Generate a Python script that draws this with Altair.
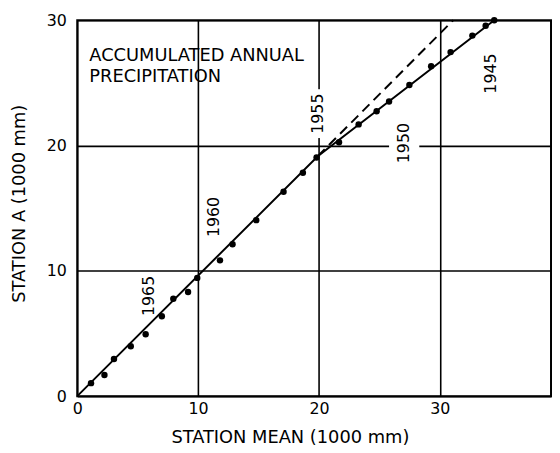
import altair as alt
import pandas as pd

# Double-mass curve: accumulated annual precipitation (1000 mm)
years = [1969, 1968, 1967, 1966, 1965, 1964, 1963, 1962, 1961, 1960,
         1959, 1958, 1957, 1956, 1955, 1954, 1953, 1952, 1951, 1950,
         1949, 1948, 1947, 1946, 1945]
station_mean = [1.14, 2.25, 3.04, 4.43, 5.66, 7.00, 7.95, 9.17, 9.93, 11.81,
                12.85, 14.81, 17.07, 18.67, 19.80, 21.66, 23.28, 24.77, 25.80, 27.48,
                29.28, 30.89, 32.69, 33.79, 34.50]
station_a = [1.04, 1.69, 2.97, 3.98, 4.94, 6.38, 7.77, 8.31, 9.44, 10.84,
             12.13, 14.05, 16.31, 17.83, 19.05, 20.26, 21.69, 22.74, 23.52, 24.84,
             26.34, 27.46, 28.78, 29.56, 30.00]

# fitted broken line and extrapolated trend (dashed)
fit_x = [0.0, 19.9, 34.5]
fit_y = [0.0, 19.15, 30.0]
trend_x = [19.9, 31.1]
trend_y = [19.15, 30.0]

# year annotations
label_text = ["1965", "1960", "1955", "1950", "1945"]
label_x = [5.95, 11.3, 19.9, 27.05, 34.2]
label_y = [8.0, 14.3, 22.55, 20.2, 25.75]

# white patches where the grid is interrupted by a year label
mask_x1 = [19.35, 25.8]
mask_x2 = [20.45, 28.3]
mask_y1 = [20.6, 18.6]
mask_y2 = [24.5, 21.8]

# panel caption
caption_lines = ["ACCUMULATED ANNUAL", "PRECIPITATION"]
caption_x = [1.0, 1.0]
caption_y = [26.76, 25.1]

x_ticks = [0, 10, 20, 30]
y_ticks = [0, 10, 20, 30]

FONT = "DejaVu Sans"
W, H = 479, 380

pts = pd.DataFrame({"year": years, "x": station_mean, "y": station_a})
fit = pd.DataFrame({"x": fit_x, "y": fit_y, "o": list(range(len(fit_x)))})
trend = pd.DataFrame({"x": trend_x, "y": trend_y, "o": list(range(len(trend_x)))})
labels = pd.DataFrame({"t": label_text, "x": label_x, "y": label_y})
masks = pd.DataFrame({"x1": mask_x1, "x2": mask_x2, "y1": mask_y1, "y2": mask_y2})
caption = pd.DataFrame({"t": caption_lines, "x": caption_x, "y": caption_y})

xscale = alt.Scale(domain=[0, W / 12.22], nice=False, zero=False)
yscale = alt.Scale(domain=[0, 30], nice=False, zero=False)

xaxis = alt.Axis(values=x_ticks, grid=True, gridColor="black", gridWidth=1.6, gridOpacity=1,
                 domain=False, ticks=False, labelFlush=False, labelFont=FONT, labelFontSize=16,
                 labelColor="black", labelPadding=5, labelAngle=0,
                 title="STATION MEAN (1000 mm)", titleFont=FONT, titleFontSize=18,
                 titleFontWeight="normal", titleColor="black", titleX=215, titleY=47,
                 titleAlign="center", titleBaseline="alphabetic")
yaxis = alt.Axis(values=y_ticks, grid=True, gridColor="black", gridWidth=1.6, gridOpacity=1,
                 domain=False, ticks=False, labelFlush=False, labelFont=FONT, labelFontSize=16,
                 labelColor="black", labelPadding=11,
                 title="STATION A (1000 mm)", titleFont=FONT, titleFontSize=18,
                 titleFontWeight="normal", titleColor="black", titleX=-53, titleY=185,
                 titleAngle=270, titleAlign="center", titleBaseline="alphabetic")

base_x = alt.X("x:Q", scale=xscale, axis=xaxis)
base_y = alt.Y("y:Q", scale=yscale, axis=yaxis)

mask_layer = alt.Chart(masks).mark_rect(color="white").encode(
    x=alt.X("x1:Q", scale=xscale, axis=xaxis), x2="x2:Q",
    y=alt.Y("y1:Q", scale=yscale, axis=yaxis), y2="y2:Q")

fit_layer = alt.Chart(fit).mark_line(color="black", strokeWidth=2).encode(
    x=base_x, y=base_y, order="o:Q")

trend_layer = alt.Chart(trend).mark_line(color="black", strokeWidth=2, strokeDash=[10, 6]).encode(
    x=base_x, y=base_y, order="o:Q")

pt_layer = alt.Chart(pts).mark_circle(color="black", opacity=1, size=42).encode(
    x=base_x, y=base_y)

label_layer = alt.Chart(labels).mark_text(font=FONT, fontSize=16, angle=270, color="black",
                                          align="center", baseline="middle").encode(
    x=base_x, y=base_y, text="t:N")

caption_layer = alt.Chart(caption).mark_text(font=FONT, fontSize=18, color="black",
                                             align="left", baseline="alphabetic").encode(
    x=base_x, y=base_y, text="t:N")

chart = alt.layer(mask_layer, fit_layer, trend_layer, pt_layer, label_layer, caption_layer).properties(
    width=W, height=H,
    autosize=alt.AutoSizeParams(type="none"),
    padding={"left": 70, "top": 10, "right": 1, "bottom": 52},
    background="white",
).configure_view(stroke="black", strokeWidth=2)

chart.save("out.html", embed_options={"renderer": "svg", "actions": False})
